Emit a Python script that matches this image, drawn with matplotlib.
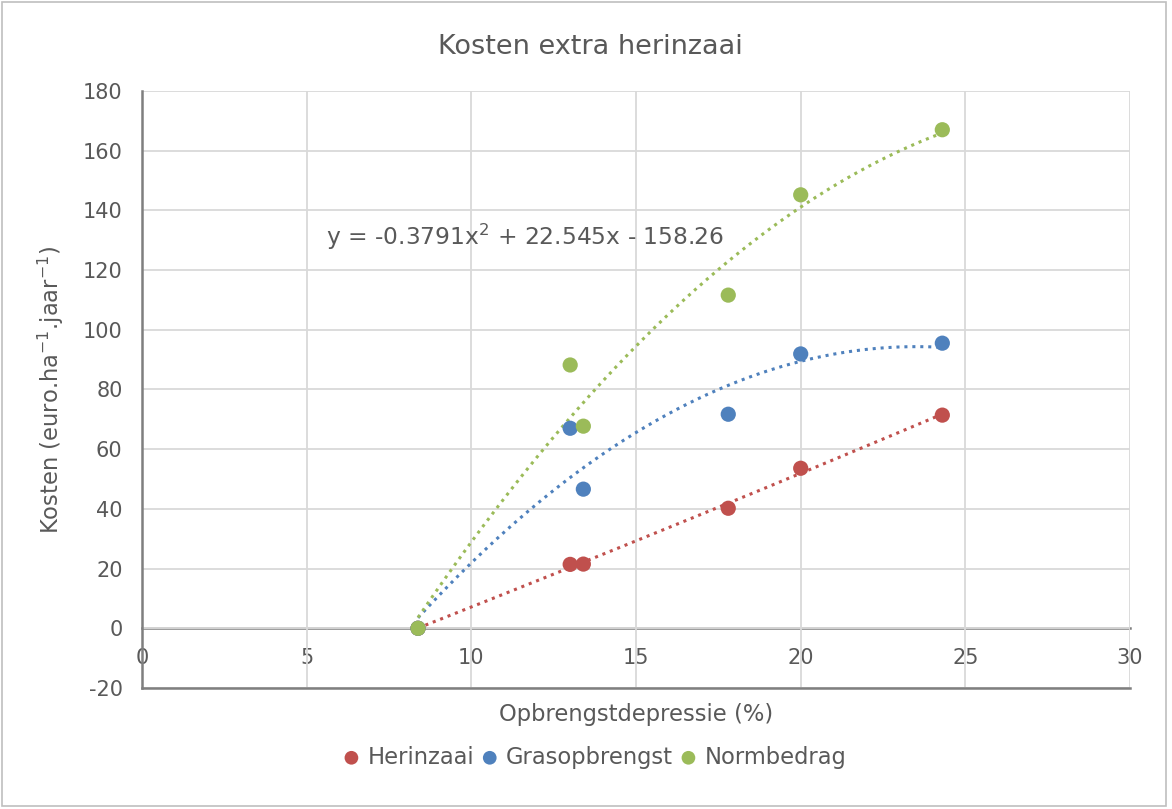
import numpy as np
import matplotlib.pyplot as plt
from matplotlib.patches import Rectangle

# values
xVals = [8.38, 13.0, 13.4, 17.8, 20.0, 24.3]
herinzaai = [0, 21.4, 21.5, 40.2, 53.6, 71.4]
grasopbrengst = [0, 67.0, 46.6, 71.7, 91.9, 95.5]
normbedrag = [0, 88.2, 67.7, 111.6, 145.2, 167.0]
seriesNames = ["Herinzaai", "Grasopbrengst", "Normbedrag"]
seriesColors = ["#c0504d", "#4f81bd", "#9bbb59"]
equationText = "y = -0.3791x$^2$ + 22.545x - 158.26"

textColor = "#595959"
plt.rcParams['font.family'] = ['DejaVu Sans']
plt.rcParams['mathtext.fontset'] = 'dejavusans'
plt.rcParams['axes.unicode_minus'] = False

fig = plt.figure(figsize=(11.72, 8.09), dpi=100)
ax = fig.add_axes([0.1212, 0.1496, 0.843, 0.738])

allSeries = [herinzaai, grasopbrengst, normbedrag]
xs = np.array(xVals)
xfit = np.linspace(xs.min(), xs.max(), 200)
for name, vals, col in zip(seriesNames, allSeries, seriesColors):
    coef = np.polyfit(xs, np.array(vals), 2)
    ax.plot(xfit, np.polyval(coef, xfit), color=col, linestyle=(0, (1, 1.6)), linewidth=2.2, zorder=3)
    ax.scatter(xs, vals, s=120, color=col, label=name, zorder=4, edgecolors='none')

ax.set_xlim(0, 30)
ax.set_ylim(-20, 180)
ax.set_yticks(range(-20, 181, 20))
ax.set_xticks(range(0, 31, 5))
ax.grid(True, color="#d9d9d9", linewidth=1.3)
ax.set_axisbelow(True)
for s in ['top', 'right']:
    ax.spines[s].set_visible(False)
for s in ['left', 'bottom']:
    ax.spines[s].set_color("#7f7f7f")
    ax.spines[s].set_linewidth(1.8)
ax.tick_params(axis='both', length=0, labelsize=15, colors=textColor, pad=14)
ax.tick_params(axis='x', labelbottom=False)

# horizontal axis crosses at 0
secax = ax.secondary_xaxis(0.1)
secax.set_xticks(range(0, 31, 5))
secax.spines['bottom'].set_color("#7f7f7f")
secax.spines['bottom'].set_linewidth(1.8)
secax.tick_params(length=0, labelsize=15, colors=textColor, pad=14)

ax.set_xlabel("Opbrengstdepressie (%)", fontsize=16.3, color=textColor, labelpad=11)
ax.set_ylabel("Kosten (euro.ha$^{-1}$.jaar$^{-1}$)", fontsize=16.3, color=textColor, labelpad=12)
ax.text(5.6, 131, equationText, fontsize=16.8, color=textColor, va='center', ha='left')

fig.text(0.504, 0.942, "Kosten extra herinzaai", fontsize=19.5, color=textColor, ha='center', va='center')
leg = fig.legend(loc='center', bbox_to_anchor=(0.507, 0.064), ncol=3, frameon=False,
                 fontsize=16.3, handlelength=0.8, handletextpad=0.3, columnspacing=0.3,
                 markerscale=0.9)
for t in leg.get_texts():
    t.set_color(textColor)

fig.patches.append(Rectangle((0.002, 0.004), 0.993, 0.993, transform=fig.transFigure,
                             fill=False, edgecolor="#bfbfbf", linewidth=1.2))

fig.savefig("out.png", dpi=100)
